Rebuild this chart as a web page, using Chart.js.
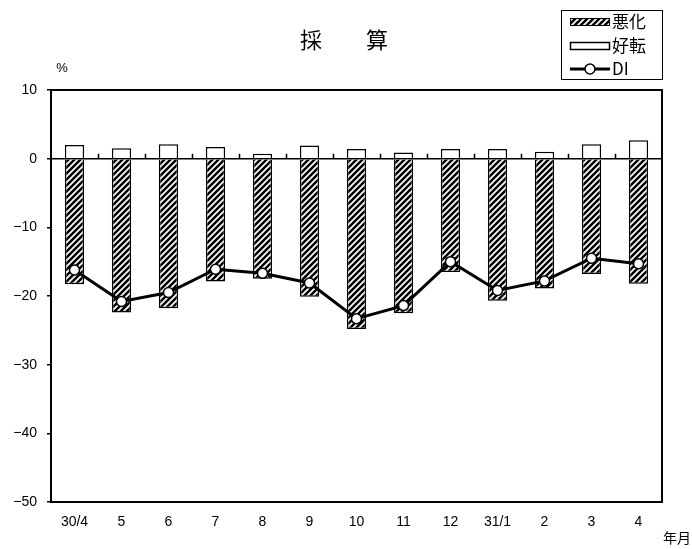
<!DOCTYPE html>
<html>
<head>
<meta charset="utf-8">
<script src="https://cdn.jsdelivr.net/npm/chart.js@4/dist/chart.umd.min.js"></script>
<style>
html,body{margin:0;padding:0;background:#fff;}
#wrap{position:relative;width:692px;height:549px;}
</style>
</head>
<body>
<div id="wrap"><canvas id="c" width="692" height="549"></canvas></div>
<script>
const categories = ['30/4','5','6','7','8','9','10','11','12','31/1','2','3','4'];
const akka = [-18.3,-22.4,-21.8,-17.9,-17.5,-20.1,-24.8,-22.5,-16.5,-20.7,-18.9,-16.8,-18.2];
const kouten = [2.0,1.5,2.1,1.7,0.7,1.9,1.4,0.9,1.4,1.4,1.0,2.1,2.7];
const di = [-16.2,-20.8,-19.5,-16.1,-16.7,-18.1,-23.3,-21.4,-15.0,-19.2,-17.8,-14.5,-15.3];
const yTicks = [-50,-40,-30,-20,-10,0,10];
const titleText = '採　　算';
const legendLabels = ['悪化','好転','DI'];

function makeHatch(){
  const c = document.createElement('canvas');
  c.width = 6; c.height = 6;
  const g = c.getContext('2d');
  g.fillStyle = '#fff'; g.fillRect(0,0,6,6);
  g.strokeStyle = '#000'; g.lineWidth = 2.5;
  g.beginPath();
  g.moveTo(-3,3); g.lineTo(3,-3);
  g.moveTo(0,6); g.lineTo(6,0);
  g.moveTo(3,9); g.lineTo(9,3);
  g.stroke();
  return document.getElementById('c').getContext('2d').createPattern(c,'repeat');
}
const hatch = makeHatch();

const CJK = '"Noto Sans CJK JP", "Liberation Sans", sans-serif';
const NUM = '"Liberation Sans", "DejaVu Sans", sans-serif';

const decor = {
  id: 'decor',
  beforeDatasetsDraw(chart){
    const {ctx, chartArea:a, scales:{x,y}} = chart;
    ctx.save();
    const y0 = y.getPixelForValue(0);
    ctx.strokeStyle = '#000'; ctx.lineWidth = 1.5;
    ctx.beginPath();
    for (let i = 1; i < categories.length; i++){
      const px = Math.round((x.getPixelForValue(i-1) + x.getPixelForValue(i))/2) + 0.5;
      ctx.moveTo(px, y0); ctx.lineTo(px, y0 - 5);
    }
    ctx.stroke();
    ctx.lineWidth = 2;
    ctx.strokeRect(a.left, a.top, a.right - a.left, a.bottom - a.top);
    ctx.restore();
  },
  afterDraw(chart){
    const ctx = chart.ctx;
    ctx.save();
    ctx.fillStyle = '#000';
    ctx.textBaseline = 'middle';
    ctx.textAlign = 'center';
    ctx.font = '22px ' + CJK;
    ctx.fillText(titleText, 344, 40);
    ctx.font = '13px ' + NUM;
    ctx.fillText('%', 62, 68);
    ctx.font = '14px ' + CJK;
    ctx.fillText('年月', 677, 538);
    // legend
    ctx.strokeStyle = '#000';
    ctx.lineWidth = 1;
    ctx.strokeRect(561.5, 10.5, 101, 69);
    ctx.fillStyle = hatch;
    ctx.fillRect(570, 18, 40, 8);
    ctx.strokeRect(570.5, 18.5, 39, 7);
    ctx.fillStyle = '#fff';
    ctx.fillRect(570, 42, 40, 8);
    ctx.lineWidth = 1.5;
    ctx.strokeRect(570.5, 42.5, 39, 7);
    ctx.lineWidth = 3;
    ctx.beginPath(); ctx.moveTo(570, 69); ctx.lineTo(610, 69); ctx.stroke();
    ctx.beginPath(); ctx.arc(590, 69, 5, 0, Math.PI*2);
    ctx.fillStyle = '#fff'; ctx.fill();
    ctx.lineWidth = 1.5; ctx.stroke();
    ctx.fillStyle = '#000';
    ctx.textAlign = 'left';
    ctx.font = '17px ' + CJK;
    ctx.fillText(legendLabels[0], 612, 22);
    ctx.fillText(legendLabels[1], 612, 46);
    ctx.fillText(legendLabels[2], 612, 69);
    ctx.restore();
  }
};

new Chart(document.getElementById('c'), {
  type: 'bar',
  data: {
    labels: categories,
    datasets: [
      { type: 'line', label: legendLabels[2], data: di, order: 0, stack: 'di',
        borderColor: '#000', borderWidth: 3, fill: false, tension: 0,
        pointRadius: 5, pointBackgroundColor: '#fff', pointBorderColor: '#000', pointBorderWidth: 1.5 },
      { label: legendLabels[0], data: akka, order: 1, stack: 's',
        backgroundColor: hatch, borderColor: '#000', borderWidth: 1.5,
        barPercentage: 0.41, categoryPercentage: 1 },
      { label: legendLabels[1], data: kouten, order: 1, stack: 's',
        backgroundColor: '#fff', borderColor: '#000', borderWidth: 1.5,
        barPercentage: 0.41, categoryPercentage: 1 }
    ]
  },
  options: {
    responsive: false,
    animation: false,
    devicePixelRatio: 1,
    layout: { padding: { left: 0, right: 30, top: 90, bottom: 0 } },
    plugins: { legend: { display: false }, title: { display: false }, tooltip: { enabled: false } },
    scales: {
      x: {
        stacked: true,
        grid: { display: false, drawTicks: false },
        border: { display: false },
        ticks: { color: '#000', font: { size: 14, family: NUM }, padding: 12, maxRotation: 0, autoSkip: false },
        afterFit(s){ s.height = 47; }
      },
      y: {
        stacked: true,
        min: -50, max: 10,
        afterBuildTicks(s){ s.ticks = yTicks.map(v => ({ value: v })); },
        grid: {
          drawTicks: true,
          tickLength: 4,
          tickColor: '#000',
          tickWidth: 1.5,
          color: c => (c.tick && c.tick.value === 0) ? '#000' : 'rgba(0,0,0,0)',
          lineWidth: 1.5
        },
        border: { display: false },
        ticks: { color: '#000', font: { size: 14, family: NUM }, padding: 10,
          callback: v => (v < 0 ? '\u2212' + Math.abs(v) : String(v)) },
        afterFit(s){ s.width = 51; }
      }
    }
  },
  plugins: [decor]
});
</script>
</body>
</html>
